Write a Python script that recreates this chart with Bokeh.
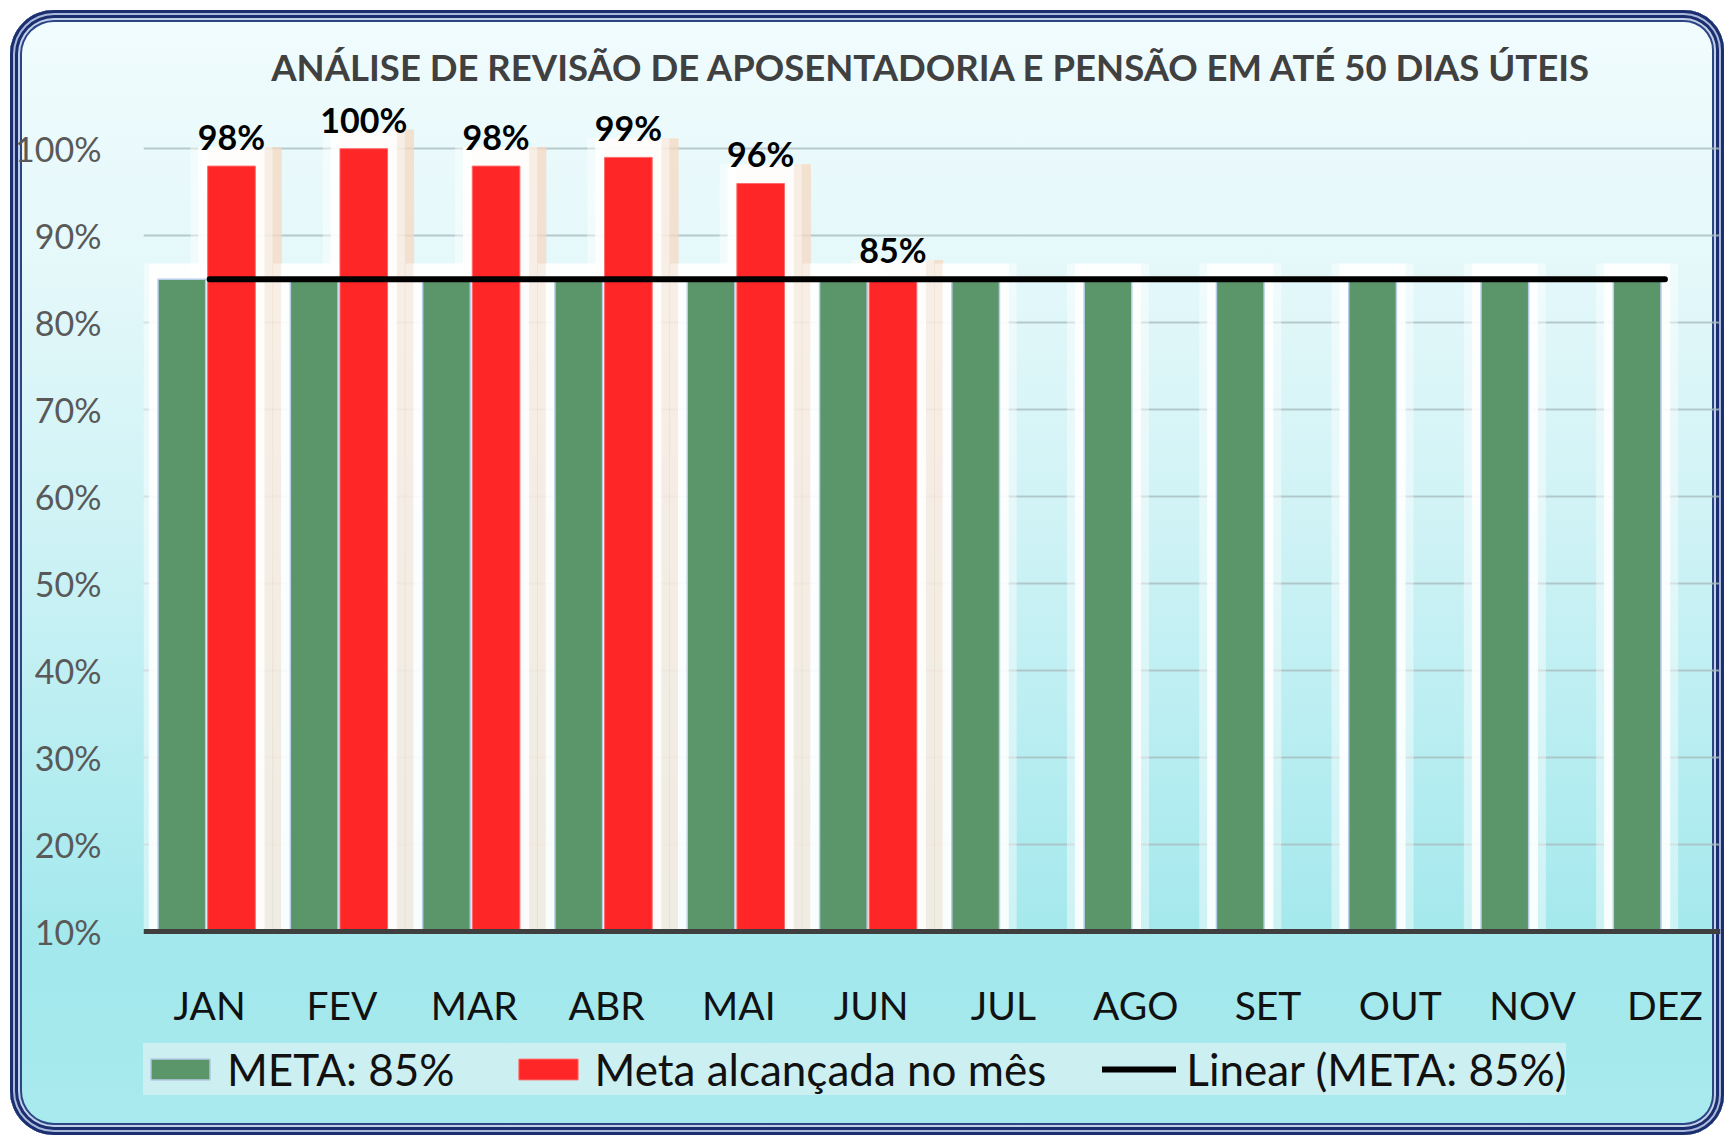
from bokeh.plotting import figure
from bokeh.models import (ColumnDataSource, Range1d, FixedTicker, NumeralTickFormatter,
                          Legend, LegendItem, InlineStyleSheet)
from bokeh.core.properties import value
from bokeh.embed import file_html
from bokeh.resources import INLINE

# ---------------- data ----------------
months = ["JAN", "FEV", "MAR", "ABR", "MAI", "JUN", "JUL", "AGO", "SET", "OUT", "NOV", "DEZ"]
meta = [0.85, 0.85, 0.85, 0.85, 0.85, 0.85, 0.85, 0.85, 0.85, 0.85, 0.85, 0.85]
achieved_months = ["JAN", "FEV", "MAR", "ABR", "MAI", "JUN"]
achieved = [0.98, 1.00, 0.98, 0.99, 0.96, 0.85]
y_ticks = [0.1, 0.2, 0.3, 0.4, 0.5, 0.6, 0.7, 0.8, 0.9, 1.0]
title_text = "ANÁLISE DE REVISÃO DE APOSENTADORIA E PENSÃO EM ATÉ 50 DIAS ÚTEIS"
legend_labels = ["META: 85%", "Meta alcançada no mês", "Linear (META: 85%)"]

FONT = "Lato"
GREEN = "#5A9669"
RED = "#FE2626"
BAR_W = 0.36
G_OFF = -0.21
R_OFF = 0.165
BASE = y_ticks[0]

centers = [i + 0.5 for i in range(len(months))]
green_x = [c + G_OFF for c in centers]
red_x = [centers[months.index(m)] + R_OFF for m in achieved_months]
ach_labels = ["{:.0f}%".format(v * 100) for v in achieved]

green_src = ColumnDataSource(dict(x=green_x, top=meta, gtop=[v + 0.018 for v in meta]))
red_src = ColumnDataSource(dict(x=red_x, top=achieved, gtop=[v + 0.022 for v in achieved],
                                px=[x + 0.10 for x in red_x], lab=ach_labels))

# ---------------- figure ----------------
W, H = 1714, 1125
p = figure(width=W, height=H, output_backend="svg", toolbar_location=None,
           x_range=Range1d(0, 11.92), y_range=Range1d(-0.1343, 1.06),
           min_border_left=133, min_border_right=4, min_border_top=86, min_border_bottom=0)

css = """
:host {
  margin-left: 10px;
  margin-top: 10px;
  background: linear-gradient(to bottom, #F1FCFD 0%, #E5F8FA 22%, #CDF2F5 48%, #B2ECF0 70%, #A2E8EC 84%, #A9EAEE 100%);
  border-radius: 44px 40px 40px 44px;
  box-shadow: inset 0 0 0 3px #1B2F6E, inset 0 0 0 5px #A9B8DC, inset 0 0 0 8px #1B2F6E,
              inset 0 0 0 10px #C3D0EA, inset 0 0 0 12px #2C4584;
}
"""
p.stylesheets = [InlineStyleSheet(css=css)]
p.background_fill_alpha = 0
p.border_fill_alpha = 0
p.outline_line_color = None

# title
p.title.text = title_text
p.title.text_font = FONT
p.title.text_font_style = "bold"
p.title.text_font_size = "36.5px"
p.title.text_color = "#404040"
p.title.align = "center"
p.title.standoff = 16

# grid
p.xgrid.grid_line_color = None
p.ygrid.ticker = FixedTicker(ticks=y_ticks[1:])
p.ygrid.grid_line_color = "#A9BDBF"
p.ygrid.grid_line_width = 2
p.ygrid.grid_line_alpha = 0.8

# y axis
p.yaxis.ticker = FixedTicker(ticks=y_ticks)
p.yaxis.formatter = NumeralTickFormatter(format="0%")
p.yaxis.axis_line_color = None
p.yaxis.major_tick_line_color = None
p.yaxis.minor_tick_line_color = None
p.yaxis.major_label_text_font = FONT
p.yaxis.major_label_text_font_size = "34px"
p.yaxis.major_label_text_color = "#595959"
p.yaxis.major_label_standoff = 36

# x axis (sits on the 10% baseline)
p.xaxis.fixed_location = BASE
p.xaxis.ticker = FixedTicker(ticks=centers)
p.xaxis.major_label_overrides = {c: m for c, m in zip(centers, months)}
p.xaxis.axis_line_color = "#3F3F3F"
p.xaxis.axis_line_width = 5
p.xaxis.major_tick_line_color = None
p.xaxis.minor_tick_line_color = None
p.xaxis.major_label_text_font = FONT
p.xaxis.major_label_text_font_size = "39px"
p.xaxis.major_label_text_color = "#111111"
p.xaxis.major_label_standoff = 44

# glows
p.vbar(x="px", top="gtop", bottom=BASE, width=BAR_W + 0.2, source=red_src,
       fill_color="#F6D8C2", fill_alpha=0.75, line_color=None)
for extra, alpha in [(0.26, 0.45), (0.14, 0.85)]:
    p.vbar(x="x", top="gtop", bottom=BASE, width=BAR_W + extra, source=green_src,
           fill_color="white", fill_alpha=alpha, line_color=None)
    p.vbar(x="x", top="gtop", bottom=BASE, width=BAR_W + extra, source=red_src,
           fill_color="white", fill_alpha=alpha, line_color=None)

# bars
g = p.vbar(x="x", top="top", bottom=BASE, width=BAR_W, source=green_src,
           fill_color=GREEN, line_color="#B7CDE8", line_width=1.5)
r = p.vbar(x="x", top="top", bottom=BASE, width=BAR_W, source=red_src,
           fill_color=RED, line_color="#FF6A6A", line_width=1)

# trend line
ln = p.line(centers, meta, line_width=6, line_color="black", line_cap="round")

# data labels
p.text(x="x", y="top", text="lab", source=red_src, text_align="center",
       text_baseline="bottom", y_offset=-9, text_font=value(FONT),
       text_font_style="bold", text_font_size="34px", text_color="black")

# legend
legend = Legend(items=[LegendItem(label=legend_labels[0], renderers=[g]),
                       LegendItem(label=legend_labels[1], renderers=[r]),
                       LegendItem(label=legend_labels[2], renderers=[ln])],
                orientation="horizontal", location=(0, 40),
                background_fill_color="#CCEFF2", background_fill_alpha=1,
                border_line_color=None, label_text_font=FONT,
                label_text_font_size="44px", label_text_color="#111111",
                glyph_width=74, glyph_height=26, label_standoff=10, label_height=50,
                spacing=56, padding=32, margin=0)
p.add_layout(legend)

open("out.html", "w").write(file_html(p, INLINE))
